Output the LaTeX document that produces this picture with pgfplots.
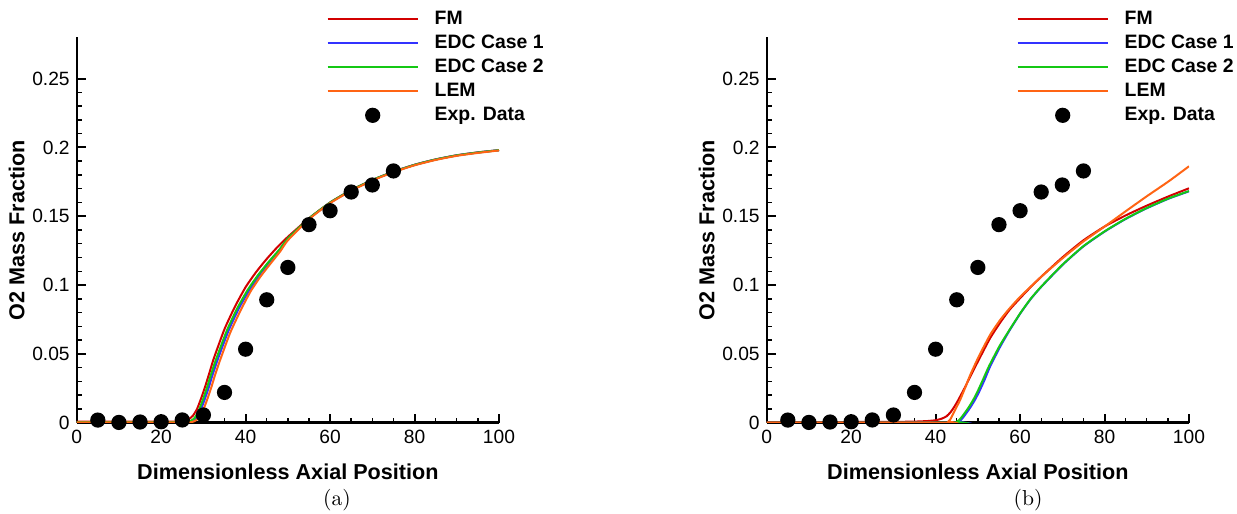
\documentclass[border=0pt]{standalone}
\usepackage{fontspec}
\setsansfont{Liberation Sans}
\usepackage{pgfplots}
\pgfplotsset{compat=1.18}
\definecolor{cFM}{RGB}{210,0,0}
\definecolor{cEa}{RGB}{50,50,255}
\definecolor{cEb}{RGB}{20,200,20}
\definecolor{cLEM}{RGB}{255,100,20}

\pgfplotsset{
  mystyle/.style={
    scale only axis, width=211.15pt, height=192.7pt,
    anchor=south west,
    xmin=0,xmax=100,ymin=0,ymax=0.28,
    axis lines*=left,
    axis line style={line width=1.2pt},
    xtick={0,20,40,60,80,100}, minor x tick num=3,
    ytick={0,0.05,0.1,0.15,0.2,0.25}, minor y tick num=4,
    tick align=inside,
    major tick length=4.5pt, minor tick length=2.5pt,
    every major tick/.append style={line width=1pt, black},
    every minor tick/.append style={line width=0.7pt, black},
    ticklabel style={font=\sffamily\fontsize{9.6}{10}\selectfont},
    /pgf/number format/assume math mode=true,
    yticklabel style={/pgf/number format/fixed,/pgf/number format/precision=2},
    scaled y ticks=false,
    xlabel={Dimensionless Axial Position}, ylabel={O2 Mass Fraction},
    every axis x label/.style={at={(rel axis cs:0.5,-0.128)},anchor=center,font=\sffamily\bfseries\fontsize{10.8}{12}\selectfont},
    every axis y label/.style={at={(rel axis cs:-0.142,0.5)},anchor=center,rotate=90,font=\sffamily\bfseries\fontsize{10.8}{12}\selectfont},
    legend style={draw=none, fill=none, at={(rel axis cs:0.592,1.070)}, anchor=north west,
      inner sep=0pt, outer sep=0pt, font=\sffamily\bfseries\fontsize{9.7}{11}\selectfont,
      row sep=3pt, column sep=8pt,
      nodes={inner sep=0pt, text height=7pt, text depth=2pt}},
    legend cell align=left,
    legend image code/.code={\draw[#1, line width=1pt] (0pt,0pt) -- (45pt,0pt);},
    every axis plot/.append style={line width=1pt, smooth, tension=0.35},
  },
  expstyle/.style={only marks, mark=*, mark size=3.3pt, black, fill=black,
    legend image code/.code={\draw[mark repeat=2,mark phase=2,##1] plot coordinates {(0pt,0pt)(22.5pt,0pt)(45pt,0pt)};}},
}

\pgfplotstableread{
x y
5 0.0019
10 0.0002
15 0.0005
20 0.0007
25 0.0020
30 0.0056
35 0.0220
40 0.0534
45 0.0893
50 0.1128
55 0.1439
60 0.1540
65 0.1676
70 0.1727
75 0.1829
}\expdata

\begin{document}
\begin{tikzpicture}
\path[use as bounding box] (0,0) rectangle (618.5pt,257pt);

\begin{axis}[mystyle, at={(38.35pt,45.65pt)}]
\addplot[cFM] coordinates {(0,0.0007)(10,0.0007)(20,0.0007)(24,0.0009)(25.5,0.0013)(26.5,0.0025)(27.5,0.005)(28.5,0.01)(29.5,0.018)(30.5,0.027)(31.5,0.037)(32.5,0.047)(35,0.068)(37.5,0.0845)(40,0.0985)(42.5,0.1095)(45,0.119)(47.5,0.1275)(50,0.135)(55,0.1485)(60,0.1600)(65,0.1690)(70,0.1763)(75,0.1824)(80,0.1874)(85,0.1913)(90,0.1943)(95,0.1964)(100,0.198)};
\addlegendentry{FM}
\addplot[cEa] coordinates {(0,0.0005)(25,0.0005)(26.5,0.0006)(27.2,0.001)(28.2,0.003)(29.2,0.008)(30.2,0.016)(31.2,0.025)(32.2,0.035)(33.4,0.046)(35.9,0.0665)(38.4,0.083)(40.9,0.0965)(43.3,0.1075)(45.7,0.1170)(48,0.1255)(50,0.1335)(55,0.1482)(60,0.1598)(65,0.1688)(70,0.1762)(75,0.1823)(80,0.1873)(85,0.1912)(90,0.1942)(95,0.1963)(100,0.198)};
\addlegendentry{EDC Case 1}
\addplot[cEb] coordinates {(0,0.0005)(25,0.0005)(26.2,0.0006)(26.8,0.001)(27.8,0.003)(28.8,0.008)(29.8,0.016)(30.8,0.025)(31.8,0.035)(33,0.046)(35.5,0.0665)(38,0.083)(40.5,0.0965)(43,0.1075)(45.5,0.1170)(48,0.1258)(50,0.1338)(55,0.1484)(60,0.1599)(65,0.1689)(70,0.1763)(75,0.1823)(80,0.1873)(85,0.1912)(90,0.1942)(95,0.1963)(100,0.198)};
\addlegendentry{EDC Case 2}
\addplot[cLEM] coordinates {(0,0.0003)(26,0.0003)(27.2,0.0005)(27.8,0.001)(28.8,0.003)(29.8,0.008)(30.8,0.016)(31.8,0.025)(32.8,0.035)(33.9,0.045)(36.3,0.065)(38.8,0.0815)(41.2,0.0955)(43.6,0.1065)(46,0.1160)(48.2,0.1245)(50,0.1325)(55,0.1478)(60,0.1595)(65,0.1685)(70,0.1759)(75,0.1820)(80,0.1870)(85,0.1909)(90,0.1939)(95,0.1960)(100,0.1978)};
\addlegendentry{LEM}
\addplot[expstyle] table[x=x,y=y] {\expdata};
\addlegendentry{Exp. Data}
\end{axis}

\begin{axis}[mystyle, at={(383.35pt,45.65pt)}]
\addplot[cFM] coordinates {(0,0.0005)(20,0.0005)(30,0.0006)(35,0.0008)(38,0.0012)(40,0.0018)(41.5,0.003)(42.6,0.0047)(43.5,0.0075)(44.2,0.0105)(45,0.0145)(45.8,0.019)(47,0.026)(48.2,0.0335)(50.2,0.0456)(52.9,0.0614)(55.3,0.0728)(57.5,0.0820)(60.1,0.0908)(62.5,0.0985)(65.1,0.1063)(70.1,0.1203)(75,0.1325)(80.1,0.1427)(85,0.1506)(90,0.1577)(95.2,0.1645)(100,0.1703)};
\addlegendentry{FM}
\addplot[cEa] coordinates {(0,0)(44.5,0)(45.3,0.0005)(46,0.002)(46.6,0.0042)(47.4,0.0075)(48.2,0.0110)(49.2,0.0160)(50.2,0.0218)(51.5,0.0305)(52.9,0.0408)(55.3,0.0553)(57.5,0.067)(60.1,0.0796)(62.5,0.0898)(65.1,0.0990)(70.1,0.1148)(75,0.1281)(80.1,0.1390)(85,0.1480)(90,0.1558)(95.2,0.1628)(100,0.1681)};
\addlegendentry{EDC Case 1}
\addplot[cEb] coordinates {(0,0)(44.1,0)(44.9,0.0005)(45.6,0.002)(46.2,0.0042)(47,0.0075)(47.8,0.0110)(48.8,0.0160)(49.8,0.0218)(51.1,0.0305)(52.6,0.0408)(55.1,0.0555)(57.4,0.067)(60.1,0.0798)(62.5,0.0900)(65.1,0.0992)(70.1,0.1150)(75,0.1283)(80.1,0.1392)(85,0.1482)(90,0.1560)(95.2,0.1630)(100,0.1683)};
\addlegendentry{EDC Case 2}
\addplot[cLEM] coordinates {(0,0)(42.3,0)(43,0.0008)(43.6,0.003)(44.2,0.0068)(45.8,0.0165)(47,0.0255)(48.2,0.0347)(50.2,0.048)(52.9,0.0638)(55.3,0.0747)(57.5,0.083)(60.1,0.0917)(65.1,0.1063)(70.1,0.1196)(75,0.1317)(80.1,0.1427)(85,0.1536)(90,0.1645)(95.2,0.1754)(100,0.1863)};
\addlegendentry{LEM}
\addplot[expstyle] table[x=x,y=y] {\expdata};
\addlegendentry{Exp. Data}
\end{axis}

\node[font=\fontsize{10.8}{12}\selectfont] at (168.5pt,7pt) {(a)};
\node[font=\fontsize{10.8}{12}\selectfont] at (514pt,7pt) {(b)};
\end{tikzpicture}
\end{document}
